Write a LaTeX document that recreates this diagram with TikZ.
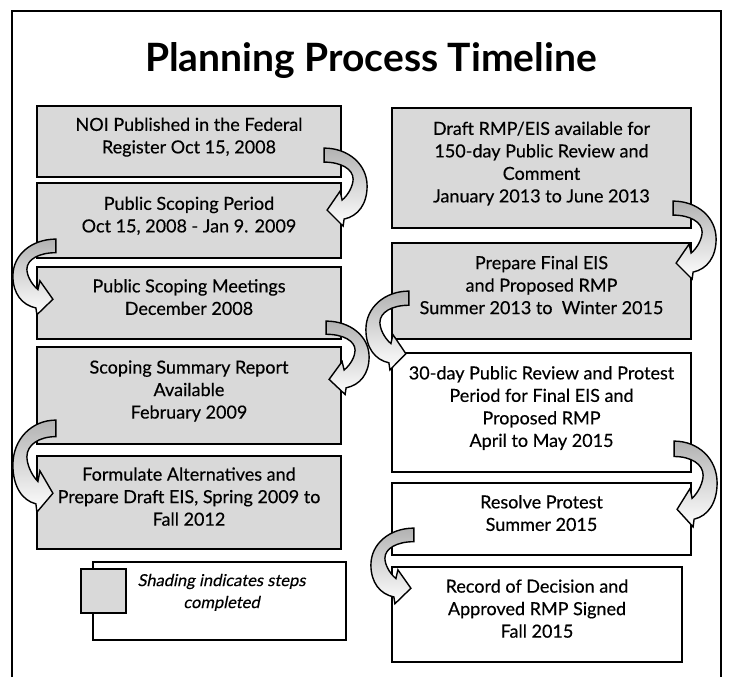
\documentclass[tikz,border=0pt]{standalone}
\usepackage{fontspec}
\setmainfont{Lato}
\newfontfamily\boxfont[FakeBold=0.35]{Lato}
\newfontfamily\boxitfont[FakeBold=0.3,FakeSlant=0.2]{Lato}
\usetikzlibrary{calc}
\newcommand\curvearrow[3]{%
  \begin{scope}[shift={#1}, xscale=#2, yscale=#3]
    \path[carrowstyle] (0,0) .. controls (24,0) and (43,16) .. (43,38)
      .. controls (43,56) and (34,68) .. (20,71) -- (19,78) -- (3,62) -- (16,43) -- (18,52)
      .. controls (25,46) and (29,37) .. (29,31) .. controls (29,21) and (17,14) .. (0,14) -- cycle;
  \end{scope}}
\begin{document}
\begin{tikzpicture}[x=1pt,y=-1pt,
  stepbox/.style={draw=black, line width=2.2pt, align=center, inner sep=0pt,
    text depth=12pt, font=\boxfont\fontsize{18}{22.5}\selectfont},
  done/.style={stepbox, fill=black!15},
  todo/.style={stepbox, fill=white},
  carrowstyle/.style={draw=black, line width=1.4pt, top color=black!30, bottom color=white}
]
\useasboundingbox (0,0) rectangle (730,677);
\fill[white] (0,0) rectangle (730,677);
\draw[line width=1.8pt] (12,677) -- (12,11) -- (721,11) -- (721,677);

\node[font=\fontsize{39}{44}\selectfont\bfseries] (title) at (371,61) {Planning Process Timeline};

% left column
\node[done, minimum width=304, minimum height=71] (L1) at (189,141.5)
  {NOI Published in the Federal\\Register Oct 15, 2008};
\node[done, minimum width=304, minimum height=75] (L2) at (189,220.5)
  {Public Scoping Period\\Oct 15, 2008 - Jan 9. 2009};
\node[done, minimum width=304, minimum height=72] (L3) at (189,303)
  {Public Scoping Meetings\\December 2008};
\node[done, minimum width=304, minimum height=97] (L4) at (189,395.5)
  {Scoping Summary Report\\Available\\February 2009};
\node[done, minimum width=304, minimum height=93] (L5) at (189,502.5)
  {Formulate Alternatives and\\Prepare Draft EIS, Spring 2009 to\\Fall 2012};

% right column
\node[done, minimum width=299, minimum height=120] (R1) at (541.5,168)
  {Draft RMP/EIS available for\\150-day Public Review and\\Comment\\January 2013 to June 2013};
\node[done, minimum width=299, minimum height=96] (R2) at (541.5,291)
  {Prepare Final EIS\\and Proposed RMP\\Summer 2013 to \ Winter 2015};
\node[todo, minimum width=299, minimum height=119] (R3) at (541.5,412.5)
  {30-day Public Review and Protest\\Period for Final EIS and\\Proposed RMP\\April to May 2015};
\node[todo, minimum width=299, minimum height=72] (R4) at (541.5,519)
  {Resolve Protest\\Summer 2015};
\node[todo, minimum width=290, minimum height=95] (R5) at (537,614.5)
  {Record of Decision and\\Approved RMP Signed\\Fall 2015};

% legend
\node[todo, minimum width=253, minimum height=78, text depth=20pt,
  font=\boxitfont\fontsize{16.5}{22}\selectfont] (legend) at (219.5,601)
  {\hspace*{4pt}Shading indicates steps\\\hspace*{4pt}completed};
\node[draw=black, line width=2pt, fill=black!15, minimum width=45, minimum height=44,
  inner sep=0pt] (swatch) at (103.5,591) {};

% curved connectors
\curvearrow{($(L1.south east)+(-18,-30)$)}{1}{1}
\curvearrow{($(L2.south west)+(20,-20)$)}{-1}{0.97}
\curvearrow{($(L3.south east)+(-16,-19)$)}{1}{0.94}
\curvearrow{($(L4.south west)+(20,-25)$)}{-1}{1.18}
\curvearrow{($(R1.south east)+(-19,-28)$)}{1}{1}
\curvearrow{($(R2.south west)+(18,-49)$)}{-1}{1.01}
\curvearrow{($(R3.south east)+(-18,-32)$)}{1}{1.1}
\curvearrow{($(R4.south west)+(23,-28)$)}{-1}{0.97}
\end{tikzpicture}
\end{document}
